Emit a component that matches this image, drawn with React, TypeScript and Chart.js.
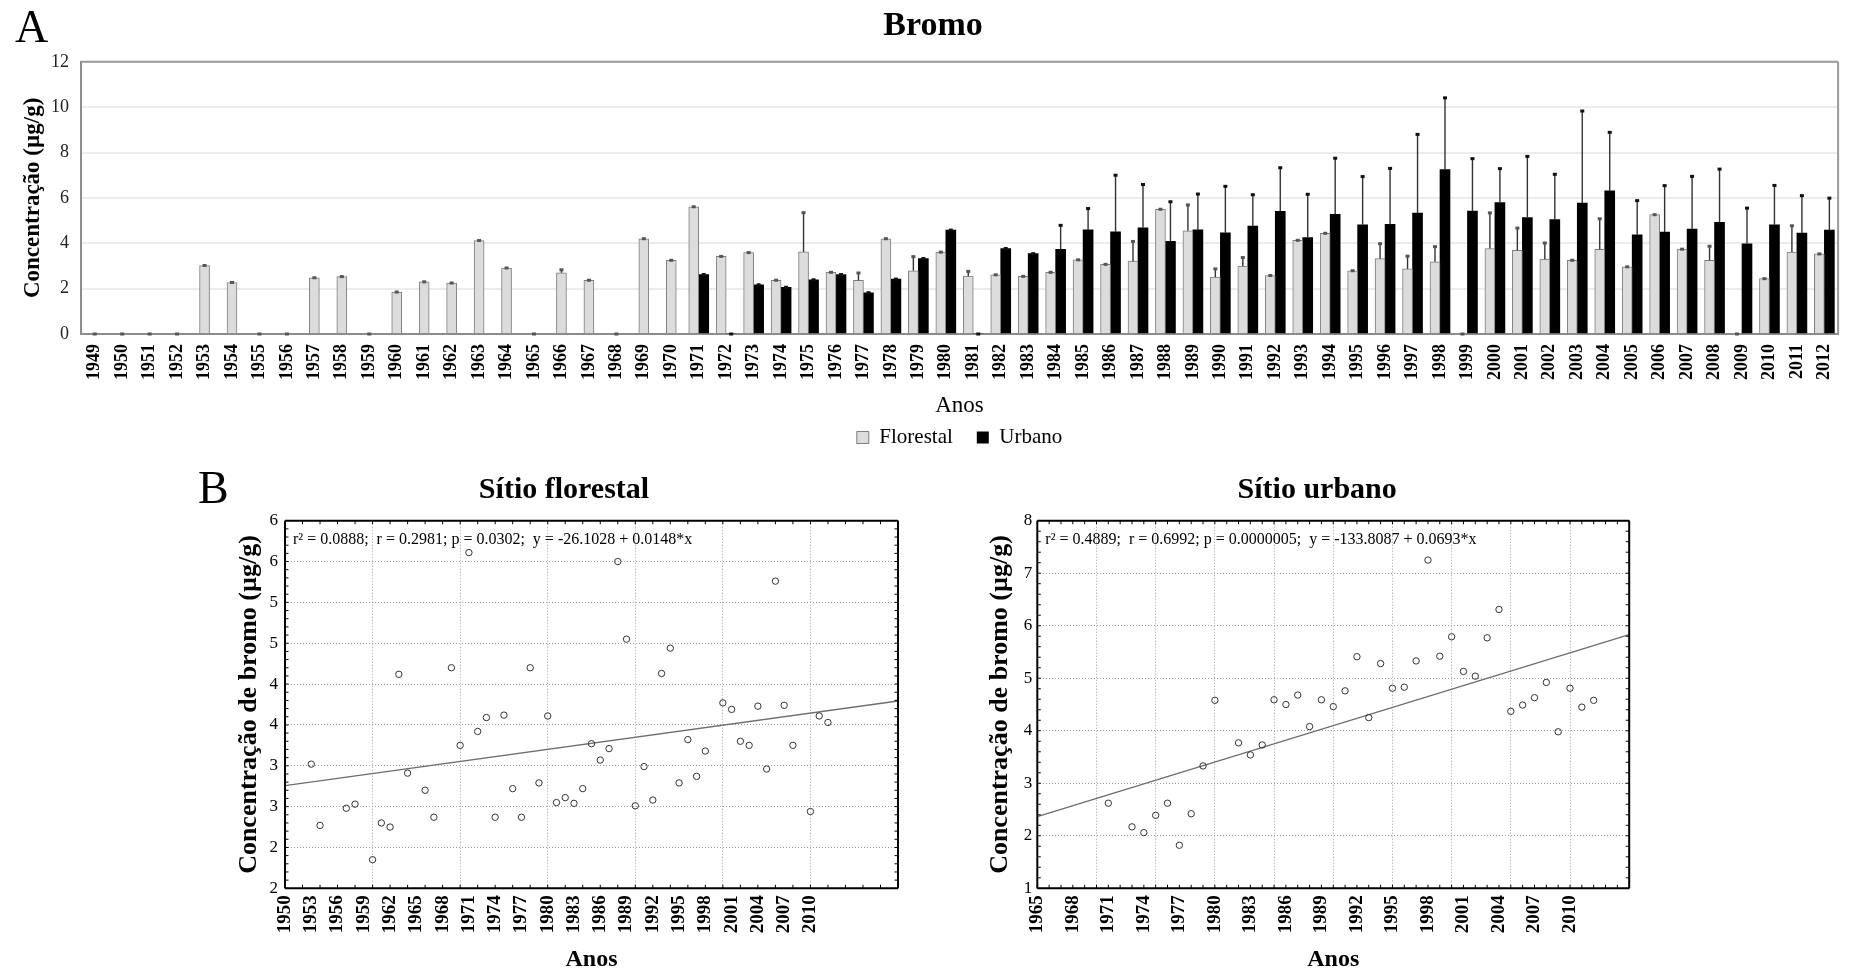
import React, { useEffect, useRef } from "react";
import { Chart, registerables } from "chart.js";

Chart.register(...registerables);

const SERIF = "'Liberation Serif', 'Times New Roman', Times, serif";
Chart.defaults.font.family = SERIF;
Chart.defaults.color = "#000";

// ---- Panel A: yearly bromine concentration (µg/g) ----
const years = [
  "1949", "1950", "1951", "1952", "1953", "1954", "1955", "1956", "1957", "1958",
  "1959", "1960", "1961", "1962", "1963", "1964", "1965", "1966", "1967", "1968",
  "1969", "1970", "1971", "1972", "1973", "1974", "1975", "1976", "1977", "1978",
  "1979", "1980", "1981", "1982", "1983", "1984", "1985", "1986", "1987", "1988",
  "1989", "1990", "1991", "1992", "1993", "1994", "1995", "1996", "1997", "1998",
  "1999", "2000", "2001", "2002", "2003", "2004", "2005", "2006", "2007", "2008",
  "2009", "2010", "2011", "2012",
];

const florestal = [
  0, 0, 0, 0, 3.02, 2.27, 0, 0, 2.48, 2.53,
  0, 1.85, 2.3, 2.25, 4.12, 2.91, 0, 2.7, 2.37, 0,
  4.2, 3.25, 5.61, 3.42, 3.59, 2.37, 3.62, 2.72, 2.37, 4.2,
  2.79, 3.61, 2.55, 2.61, 2.54, 2.72, 3.27, 3.07, 3.21, 5.5,
  4.55, 2.51, 2.99, 2.58, 4.13, 4.44, 2.79, 3.32, 2.87, 3.18,
  0, 3.77, 3.69, 3.3, 3.25, 3.73, 2.96, 5.26, 3.74, 3.25,
  0, 2.44, 3.61, 3.53,
];

const urbano = [
  null, null, null, null, null, null, null, null, null, null,
  null, null, null, null, null, null, null, null, null, null,
  null, null, 2.62, 0, 2.17, 2.06, 2.39, 2.62, 1.82, 2.42,
  3.33, 4.58, 0, 3.77, 3.54, 3.73, 4.59, 4.5, 4.68, 4.08,
  4.59, 4.46, 4.76, 5.41, 4.25, 5.28, 4.81, 4.83, 5.33, 7.25,
  5.42, 5.79, 5.13, 5.04, 5.77, 6.31, 4.37, 4.49, 4.63, 4.92,
  3.98, 4.81, 4.45, 4.58,
];

// standard deviations drawn as upper whiskers
const sdFlorestal = [
  0, 0, 0, 0, 0, 0, 0, 0, 0, 0,
  0, 0, 0, 0, 0, 0, 0, 0.13, 0, 0,
  0, 0, 0, 0, 0, 0, 1.73, 0, 0.32, 0,
  0.62, 0, 0.21, 0, 0, 0, 0, 0, 0.87, 0,
  1.14, 0.36, 0.38, 0, 0, 0, 0, 0.66, 0.56, 0.67,
  0, 1.57, 0.98, 0.71, 0, 1.35, 0, 0, 0, 0.62,
  0, 0, 1.16, 0,
];

const sdUrbano = [
  null, null, null, null, null, null, null, null, null, null,
  null, null, null, null, null, null, null, null, null, null,
  null, null, 0, 0, 0, 0, 0, 0, 0, 0,
  0, 0, 0, 0, 0, 1.06, 0.94, 2.5, 1.91, 1.75,
  1.58, 2.05, 1.38, 1.92, 1.91, 2.47, 2.13, 2.47, 3.47, 3.16,
  2.31, 1.5, 2.7, 2.0, 4.06, 2.58, 1.51, 2.05, 2.32, 2.35,
  1.57, 1.74, 1.65, 1.41,
];

const concentrationTicks = [0, 2, 4, 6, 8, 10, 12];

// ---- Panel B: regressions over time ----
const florestalFit = { intercept: -26.1028, slope: 0.0148 };
const urbanoFit = { intercept: -133.8087, slope: 0.0693 };
const florestalStats = "r² = 0.0888;  r = 0.2981; p = 0.0302;  y = -26.1028 + 0.0148*x";
const urbanoStats = "r² = 0.4889;  r = 0.6992; p = 0.0000005;  y = -133.8087 + 0.0693*x";

const florestalYearRange = [1950, 2020];
const florestalYearLabels = [1950, 1953, 1956, 1959, 1962, 1965, 1968, 1971, 1974, 1977, 1980, 1983, 1986, 1989, 1992, 1995, 1998, 2001, 2004, 2007, 2010];
const florestalYearGrid = [1960, 1970, 1980, 1990, 2000, 2010];
const florestalYTicks = [1.5, 2, 2.5, 3, 3.5, 4, 4.5, 5, 5.5, 6];
const florestalYTickLabels = ["2", "2", "3", "3", "4", "4", "5", "5", "6", "6"];

const urbanoYearRange = [1965, 2015];
const urbanoYearLabels = [1965, 1968, 1971, 1974, 1977, 1980, 1983, 1986, 1989, 1992, 1995, 1998, 2001, 2004, 2007, 2010];
const urbanoYearGrid = [1970, 1975, 1980, 1985, 1990, 1995, 2000, 2005, 2010];
const urbanoYTicks = [1, 2, 3, 4, 5, 6, 7, 8];
const urbanoYTickLabels = ["1", "2", "3", "4", "5", "6", "7", "8"];

// ---- plugins ----
const errorBars = {
  id: "errorBars",
  afterDatasetsDraw(chart: any, _a: any, o: any) {
    const { ctx } = chart;
    const ys = chart.scales.y;
    ctx.save();
    o.sd.forEach((sd: any[], d: number) => {
      const meta = chart.getDatasetMeta(d);
      const values = chart.data.datasets[d].data;
      values.forEach((v: any, i: number) => {
        if (v === null || v === undefined) return;
        const el = meta.data[i];
        if (!el) return;
        const x = el.x;
        const y0 = ys.getPixelForValue(v);
        const y1 = ys.getPixelForValue(v + (sd[i] || 0));
        if (y0 - y1 > 1) {
          ctx.strokeStyle = o.lineColor;
          ctx.lineWidth = 1.4;
          ctx.beginPath();
          ctx.moveTo(x, y0);
          ctx.lineTo(x, y1);
          ctx.stroke();
        }
        ctx.fillStyle = o.capColors[d];
        ctx.fillRect(x - 2, y1 - 1.5, 4, 3);
      });
    });
    ctx.restore();
  },
};

const plotFrame = {
  id: "plotFrame",
  afterDatasetsDraw(chart: any, _a: any, o: any) {
    const { ctx, chartArea } = chart;
    const { left, right, top, bottom } = chartArea;
    ctx.save();
    ctx.strokeStyle = o.color;
    ctx.lineWidth = o.width;
    ctx.beginPath();
    if (o.sides.includes("top")) { ctx.moveTo(left, top); ctx.lineTo(right, top); }
    if (o.sides.includes("right")) { ctx.moveTo(right, top); ctx.lineTo(right, bottom); }
    if (o.sides.includes("bottom")) { ctx.moveTo(left, bottom); ctx.lineTo(right, bottom); }
    if (o.sides.includes("left")) { ctx.moveTo(left, top); ctx.lineTo(left, bottom); }
    ctx.stroke();
    const len = o.tickLen || 0;
    ctx.lineWidth = 1;
    ctx.beginPath();
    if (o.minorX) {
      const xs = chart.scales.x;
      const n = Math.round((xs.max - xs.min) / o.minorX);
      for (let k = 0; k <= n; k++) {
        const px = xs.getPixelForValue(xs.min + k * o.minorX);
        ctx.moveTo(px, bottom); ctx.lineTo(px, bottom - len);
        ctx.moveTo(px, top); ctx.lineTo(px, top + len);
      }
    }
    if (o.minorY) {
      const ys = chart.scales.y;
      const n = Math.round((ys.max - ys.min) / o.minorY);
      for (let k = 0; k <= n; k++) {
        const py = ys.getPixelForValue(ys.min + k * o.minorY);
        ctx.moveTo(left, py); ctx.lineTo(left + len, py);
        ctx.moveTo(right, py); ctx.lineTo(right - len, py);
      }
    }
    ctx.stroke();
    ctx.restore();
  },
};

const statsNote = {
  id: "statsNote",
  afterDatasetsDraw(chart: any, _a: any, o: any) {
    if (!o.text) return;
    const { ctx, chartArea } = chart;
    ctx.save();
    ctx.font = `${o.size}px ${SERIF}`;
    ctx.fillStyle = "#000";
    ctx.textAlign = "left";
    ctx.textBaseline = "middle";
    ctx.fillText(o.text, chartArea.left + o.dx, chartArea.top + o.dy);
    ctx.restore();
  },
};

const panelLetter = {
  id: "panelLetter",
  afterDraw(chart: any, _a: any, o: any) {
    if (!o.text) return;
    const { ctx } = chart;
    ctx.save();
    ctx.font = `${o.size}px ${SERIF}`;
    ctx.fillStyle = "#000";
    ctx.textAlign = "left";
    ctx.textBaseline = "alphabetic";
    ctx.fillText(o.text, o.x, o.y);
    ctx.restore();
  },
};

// ---- configurations ----
function barConfig() {
  return {
    type: "bar",
    data: {
      labels: years,
      datasets: [
        {
          label: "Florestal",
          data: florestal,
          backgroundColor: "#dcdcdc",
          borderColor: "#7d7d7d",
          borderWidth: 1,
          barThickness: 10,
          skipNull: true,
        },
        {
          label: "Urbano",
          data: urbano,
          backgroundColor: "#000000",
          borderColor: "#000000",
          borderWidth: 0,
          barThickness: 10,
          skipNull: true,
        },
      ],
    },
    options: {
      animation: false,
      responsive: false,
      devicePixelRatio: 1,
      layout: { padding: { left: 15, right: 5, top: 0, bottom: 2 } },
      plugins: {
        title: {
          display: true,
          text: "Bromo",
          font: { family: SERIF, size: 34, weight: "bold" },
          color: "#000",
          padding: { top: 6, bottom: 15 },
        },
        legend: {
          position: "bottom",
          fullSize: false,
          labels: {
            boxWidth: 12,
            boxHeight: 12,
            padding: 24,
            font: { family: SERIF, size: 21 },
            color: "#000",
          },
        },
        tooltip: { enabled: false },
        errorBars: { sd: [sdFlorestal, sdUrbano], lineColor: "#333", capColors: ["#555", "#111"] },
        plotFrame: { color: "#9a9a9a", width: 2, sides: ["top", "right"] },
        panelLetter: { text: "A", x: 15, y: 42, size: 46 },
      },
      scales: {
        x: {
          ticks: {
            autoSkip: false,
            minRotation: 90,
            maxRotation: 90,
            padding: 10,
            font: { family: SERIF, size: 18, weight: "bold" },
            color: "#000",
          },
          grid: { display: false, drawTicks: false },
          border: { color: "#8c8c8c", width: 2 },
          title: {
            display: true,
            text: "Anos",
            font: { family: SERIF, size: 23 },
            color: "#000",
            padding: { top: 0, bottom: -17 },
          },
          afterFit: (s: any) => { s.height = 69; },
        },
        y: {
          min: 0,
          max: 12,
          afterBuildTicks: (s: any) => { s.ticks = concentrationTicks.map((v) => ({ value: v })); },
          ticks: { font: { family: SERIF, size: 18 }, color: "#222", padding: 12 },
          grid: { drawTicks: false, color: "#ececec", lineWidth: 2 },
          border: { color: "#8c8c8c", width: 2 },
          title: {
            display: true,
            text: "Concentração (µg/g)",
            font: { family: SERIF, size: 23, weight: "bold" },
            color: "#000",
            padding: { top: 4, bottom: 0 },
          },
          afterFit: (s: any) => { s.width = 66; },
        },
      },
    },
    plugins: [errorBars, plotFrame, panelLetter],
  };
}

function scatterConfig(p: any) {
  const points = years
    .map((yr, i) => ({ x: Number(yr), y: p.values[i] }))
    .filter((pt) => pt.y !== null && pt.y > 0);
  const [x0, x1] = p.range;
  const fitLine = [
    { x: x0, y: p.fit.intercept + p.fit.slope * x0 },
    { x: x1, y: p.fit.intercept + p.fit.slope * x1 },
  ];
  const yTicks = p.yTicks;
  return {
    type: "scatter",
    data: {
      datasets: [
        {
          label: "amostras",
          data: points,
          showLine: false,
          pointStyle: "circle",
          pointRadius: 3.2,
          pointHoverRadius: 3.2,
          pointBorderWidth: 1,
          borderColor: "#333",
          backgroundColor: "rgba(255,255,255,0)",
        },
        {
          label: "regressão",
          data: fitLine,
          showLine: true,
          pointRadius: 0,
          borderColor: "#6e6e6e",
          borderWidth: 1.3,
        },
      ],
    },
    options: {
      animation: false,
      responsive: false,
      devicePixelRatio: 1,
      layout: { padding: { left: p.padLeft, right: p.padRight, top: 0, bottom: 0 } },
      plugins: {
        title: {
          display: true,
          text: p.title,
          font: { family: SERIF, size: 30, weight: "bold" },
          color: "#000",
          padding: { top: 12, bottom: 12.7 },
        },
        legend: { display: false },
        tooltip: { enabled: false },
        plotFrame: { color: "#000", width: 2, sides: ["top", "right", "bottom", "left"], minorX: p.minorX, minorY: p.minorY, tickLen: 3.5 },
        statsNote: { text: p.stats, size: 16, dx: 8, dy: 19 },
        panelLetter: p.letter ? { text: p.letter, x: 8, y: 43, size: 46 } : { text: "" },
      },
      scales: {
        x: {
          type: "linear",
          min: x0,
          max: x1,
          afterBuildTicks: (s: any) => {
            const vals = Array.from(new Set([x0, ...p.yearLabels, ...p.yearGrid, x1])).sort((a: any, b: any) => a - b);
            s.ticks = vals.map((v) => ({ value: v }));
          },
          ticks: {
            autoSkip: false,
            minRotation: 90,
            maxRotation: 90,
            padding: 7,
            font: { family: SERIF, size: 19, weight: "bold" },
            color: "#000",
            callback: (v: any) => (p.yearLabels.includes(v) ? String(v) : ""),
          },
          grid: {
            drawTicks: false,
            lineWidth: 1,
            color: (c: any) => (c.tick && p.yearGrid.includes(c.tick.value) ? "#a0a0a0" : "rgba(0,0,0,0)"),
          },
          border: { display: false, dash: [1, 2] },
          title: {
            display: true,
            text: "Anos",
            font: { family: SERIF, size: 24, weight: "bold" },
            color: "#000",
            padding: { top: 0, bottom: -5.4 },
          },
          afterFit: (s: any) => { s.height = 80.7; },
        },
        y: {
          min: yTicks[0],
          max: yTicks[yTicks.length - 1],
          afterBuildTicks: (s: any) => { s.ticks = yTicks.map((v: number) => ({ value: v })); },
          ticks: {
            font: { family: SERIF, size: 17 },
            color: "#000",
            padding: p.yTickPad,
            callback: (_v: any, i: number) => p.yTickLabels[i],
          },
          grid: { drawTicks: false, lineWidth: 1, color: "#a0a0a0" },
          border: { display: false, dash: [1, 2] },
          title: {
            display: true,
            text: "Concentração de bromo (µg/g)",
            font: { family: SERIF, size: 26, weight: "bold" },
            color: "#000",
            padding: { top: p.yTitlePad, bottom: 0 },
          },
          afterFit: (s: any) => { s.width = p.yAxisWidth; },
        },
      },
    },
    plugins: [plotFrame, statsNote, panelLetter],
  };
}

function ChartCanvas(props: { make: () => any; left: number; top: number; width: number; height: number }) {
  const ref = useRef<HTMLCanvasElement | null>(null);
  useEffect(() => {
    if (!ref.current) return;
    const chart = new Chart(ref.current, props.make());
    return () => chart.destroy();
  }, []);
  return (
    <canvas
      ref={ref}
      width={props.width}
      height={props.height}
      style={{ position: "absolute", left: props.left, top: props.top, width: props.width, height: props.height }}
    />
  );
}

export default function App() {
  return (
    <div
      style={{
        position: "absolute",
        left: 0,
        top: 0,
        width: 1856,
        height: 969,
        background: "#fff",
        overflow: "hidden",
      }}
    >
      <ChartCanvas make={barConfig} left={0} top={0} width={1856} height={460} />
      <ChartCanvas
        make={() =>
          scatterConfig({
            title: "Sítio florestal",
            letter: "B",
            values: florestal,
            range: florestalYearRange,
            yearLabels: florestalYearLabels,
            yearGrid: florestalYearGrid,
            yTicks: florestalYTicks,
            yTickLabels: florestalYTickLabels,
            fit: florestalFit,
            stats: florestalStats,
            padLeft: 40,
            padRight: 54,
            yAxisWidth: 55,
            yTitlePad: 4,
            yTickPad: 7,
            minorX: 2,
            minorY: 0.1,
          })
        }
        left={190}
        top={460}
        width={762}
        height={509}
      />
      <ChartCanvas
        make={() =>
          scatterConfig({
            title: "Sítio urbano",
            letter: "",
            values: urbano,
            range: urbanoYearRange,
            yearLabels: urbanoYearLabels,
            yearGrid: urbanoYearGrid,
            yTicks: urbanoYTicks,
            yTickLabels: urbanoYTickLabels,
            fit: urbanoFit,
            stats: urbanoStats,
            padLeft: 0,
            padRight: 9.7,
            yAxisWidth: 52.3,
            yTitlePad: 0,
            yTickPad: 5,
            minorX: 1,
            minorY: 0.2,
          })
        }
        left={985}
        top={460}
        width={674}
        height={509}
      />
    </div>
  );
}
